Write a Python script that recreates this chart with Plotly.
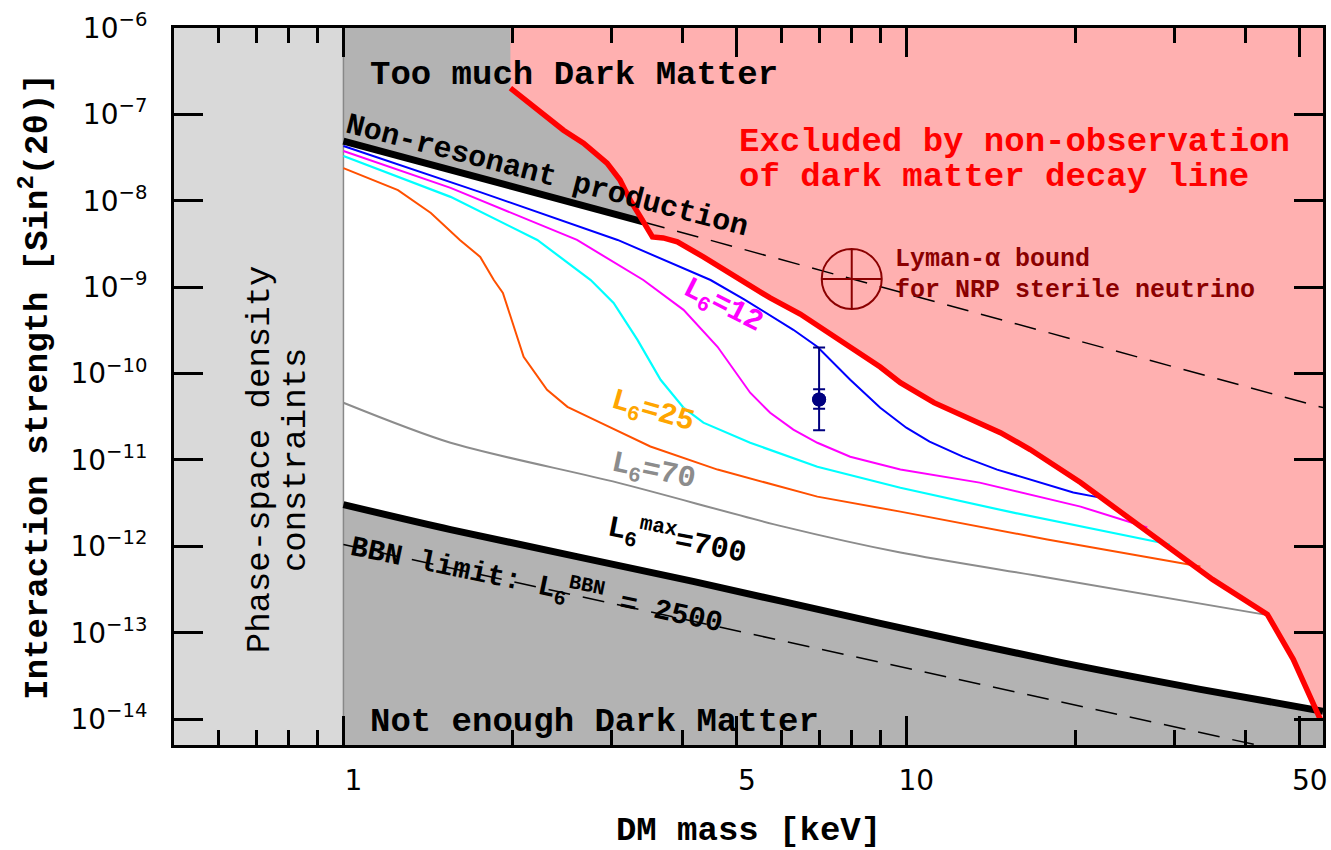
import numpy as np
import plotly.graph_objects as go

# ---------------- axis limits ----------------
M_MIN, M_MAX = 0.5, 55.0            # keV
LOG_S_MIN, LOG_S_MAX = -14.3, -6.0   # log10 sin^2(2 theta)
FILL_LO, FILL_HI = 1e-17, 1e-4       # fill polygons run past the frame and get clipped
M_FAR = 90.0
PHASE_SPACE_LIMIT = 1.0              # keV

# ---------------- data ----------------
# Non-resonant production (solid up to the X-ray bound, dashed beyond)
nrp_mass = [1.0, 3.41, 55.0]
nrp_sin = [4.91e-8, 5.69e-9, 4.03e-11]

# Upper bound from non-observation of the decay line
red_mass = [1.98, 2.21, 2.46, 2.67, 2.94, 3.10, 3.23, 3.37, 3.54, 3.70, 3.92, 4.36,
            4.87, 5.73, 6.48, 7.95, 8.99, 9.76, 11.2, 14.7, 16.6, 20.4, 23.3, 29.1,
            35.0, 43.8, 48.7, 54.4]
red_sin = [2.01e-7, 1.12e-7, 6.56e-8, 4.65e-8, 2.73e-8, 1.74e-8, 1.02e-8, 6.50e-9,
           3.81e-9, 3.71e-9, 3.34e-9, 2.24e-9, 1.46e-9, 7.5e-10, 4.89e-10, 1.99e-10,
           1.19e-10, 7.84e-11, 4.6e-11, 2.07e-11, 1.32e-11, 5.47e-12, 2.89e-12,
           9.96e-13, 4.14e-13, 1.63e-13, 4.92e-14, 9.95e-15]

# Maximal lepton asymmetry L6^max = 700
lmax_mass = [1.0, 1.55, 4.18, 8.99, 18.8, 33.3, 55.0]
lmax_sin = [3.04e-12, 1.56e-12, 3.92e-13, 1.28e-13, 4.53e-14, 2.21e-14, 1.23e-14]

# BBN limit L6^BBN = 2500
bbn_mass = [1.0, 50.0]
bbn_sin = [1.05e-12, 3.9e-15]

# Resonant production curves for fixed L6
blue_mass = [1.0, 1.75, 3.07, 4.49, 5.16, 6.30, 6.95, 7.95, 8.99, 10.0, 11.0, 12.6,
             14.5, 17.3, 19.8, 22.1]
blue_sin = [4.31e-8, 1.26e-8, 3.52e-9, 1.21e-9, 7.18e-10, 3.21e-10, 2.04e-10,
            8.47e-11, 4.02e-11, 2.36e-11, 1.63e-11, 1.09e-11, 7.73e-12, 5.46e-12,
            4.19e-12, 3.66e-12]

l12_mass = [1.0, 1.55, 2.60, 3.41, 4.02, 4.62, 5.28, 5.73, 6.30, 6.95, 7.95, 9.76,
            13.5, 20.4, 26.8]
l12_sin = [3.77e-8, 1.41e-8, 3.52e-9, 1.21e-9, 5.46e-10, 2.04e-10, 6.0e-11, 3.52e-11,
           2.24e-11, 1.58e-11, 1.09e-11, 7.73e-12, 5.46e-12, 2.88e-12, 1.65e-12]

cyan_mass = [1.0, 1.55, 2.21, 2.75, 3.02, 3.33, 3.66, 4.02, 4.36, 5.28, 6.95, 9.76,
             15.5, 29.4]
cyan_sin = [3.30e-8, 1.11e-8, 3.52e-9, 1.21e-9, 6.58e-10, 2.45e-10, 8.47e-11,
            4.02e-11, 2.70e-11, 1.58e-11, 8.34e-12, 4.77e-12, 2.45e-12, 1.05e-12]

l25_mass = [1.0, 1.25, 1.43, 1.61, 1.75, 1.85, 1.92, 2.09, 2.30, 2.50, 2.86, 3.51,
            4.62, 6.95, 9.76, 17.8, 33.3]
l25_sin = [2.39e-8, 1.33e-8, 7.23e-9, 3.52e-9, 2.24e-9, 1.21e-9, 8.59e-10, 1.56e-10,
           6.49e-11, 4.12e-11, 2.70e-11, 1.43e-11, 7.73e-12, 3.76e-12, 2.52e-12,
           1.20e-12, 5.83e-13]

l70_mass = [1.0, 1.55, 3.07, 6.05, 9.76, 17.8, 43.1]
l70_sin = [4.59e-11, 1.58e-11, 5.46e-12, 1.69e-12, 8.47e-13, 4.36e-13, 1.63e-13]

# 3.5 keV line signal
line_mass = [7.0]
line_sin = [5.0e-11]
line_inner = [3.9e-11, 6.6e-11]
line_outer = [2.2e-11, 2.0e-10]

# Lyman-alpha bound for NRP sterile neutrino
lyman_mass = [8.0]
lyman_sin = [1.24e-9]

# ---------------- ticks ----------------
x_major = [1, 5, 10, 50]
x_minor = [0.6, 0.7, 0.8, 0.9, 2, 3, 4, 6, 7, 8, 9, 20, 30, 40]
y_exps = list(range(-14, -5))
y_tickvals = [10.0 ** e for e in y_exps]
y_ticktext = ["10<sup>\u2212%d</sup>" % (-e) for e in y_exps]

# ---------------- colours ----------------
C_PHASE = "#d9d9d9"
C_GRAY = "#b3b3b3"
C_PINK = "#ffb0b0"
C_RED = "#ff0000"
C_DARKRED = "#8b0000"

MONO = "Liberation Mono"
fig = go.Figure()


def fill(xs, ys, color):
    fig.add_trace(go.Scatter(x=xs, y=ys, mode="lines", fill="toself", fillcolor=color,
                             line=dict(width=0, color=color), hoverinfo="skip",
                             showlegend=False))


def curve(xs, ys, color, width, dash="solid", shape="linear"):
    fig.add_trace(go.Scatter(x=xs, y=ys, mode="lines",
                             line=dict(color=color, width=width, dash=dash,
                                       shape=shape, smoothing=0.8),
                             showlegend=False))


# shaded regions
fill([M_MIN / 2, PHASE_SPACE_LIMIT, PHASE_SPACE_LIMIT, M_MIN / 2],
     [FILL_LO, FILL_LO, FILL_HI, FILL_HI], C_PHASE)
fill([nrp_mass[0], nrp_mass[0], nrp_mass[1], nrp_mass[1]],
     [FILL_HI, nrp_sin[0], nrp_sin[1], FILL_HI], C_GRAY)
fill(lmax_mass + [M_FAR, lmax_mass[0]], lmax_sin + [FILL_LO, FILL_LO], C_GRAY)
fill(red_mass + [M_FAR, M_FAR, red_mass[0]],
     red_sin + [red_sin[-1], FILL_HI, FILL_HI], C_PINK)

# phase-space boundary
curve([PHASE_SPACE_LIMIT, PHASE_SPACE_LIMIT], [FILL_LO, FILL_HI], "#888888", 1.5)

# production curves
curve(nrp_mass[:2], nrp_sin[:2], "black", 7)
curve(nrp_mass[1:], nrp_sin[1:], "black", 1.5, dash="22px,13px")
curve(bbn_mass, bbn_sin, "black", 1.5, dash="22px,13px")
curve(lmax_mass, lmax_sin, "black", 7, shape="spline")
curve(l70_mass, l70_sin, "#8c8c8c", 2, shape="spline")
curve(l25_mass, l25_sin, "#ff5000", 2)
curve(cyan_mass, cyan_sin, "#00ffff", 2.2)
curve(l12_mass, l12_sin, "#ff00ff", 2)
curve(blue_mass, blue_sin, "#0000ff", 2)
curve(red_mass, red_sin, C_RED, 5.5)

# 3.5 keV line: outer (systematic) and inner error bars
for lo, hi in (line_outer, line_inner):
    fig.add_trace(go.Scatter(
        x=line_mass, y=line_sin, mode="markers",
        marker=dict(size=14, color="#000080"),
        error_y=dict(type="data", symmetric=False,
                     array=[hi - v for v in line_sin],
                     arrayminus=[v - lo for v in line_sin],
                     color="#000080", thickness=2, width=6),
        showlegend=False))

# Lyman-alpha marker
fig.add_trace(go.Scatter(
    x=lyman_mass, y=lyman_sin, mode="markers",
    marker=dict(symbol="circle-cross-open", size=60, color=C_DARKRED,
                line=dict(width=2, color=C_DARKRED)),
    showlegend=False))


# ---------------- labels ----------------
def label(text, lx, ly, size=34, color="black", angle=0, xanchor="center",
          weight="bold"):
    fig.add_annotation(x=lx, y=ly, xref="x", yref="y", text=text, showarrow=False,
                       textangle=angle, xanchor=xanchor, yanchor="middle",
                       font=dict(family=MONO, size=size, color=color, weight=weight))


label("Too much Dark Matter", 0.410, -6.546)
label("Not enough Dark Matter", 0.446, -14.03)
label("Non-resonant production", 0.361, -7.713, size=30, angle=14.5)
label("Excluded by non-observation", 0.700, -7.320, color=C_RED, xanchor="left")
label("of dark matter decay line", 0.700, -7.725, color=C_RED, xanchor="left")
label("Lyman-\u03b1 bound", 0.977, -8.684, size=25, color=C_DARKRED, xanchor="left")
label("for NRP sterile neutrino", 0.977, -9.043, size=25, color=C_DARKRED,
      xanchor="left")
label("L<sub>6</sub>=12", 0.673, -9.229, size=30, color="#ff00ff", angle=27)
label("L<sub>6</sub>=25", 0.549, -10.454, size=30, color="#ffa500", angle=16)
label("L<sub>6</sub>=70", 0.551, -11.148, size=30, color="#8c8c8c", angle=12)
label("L<sub>6</sub><sup>max</sup>=700", 0.593, -11.923, size=30, angle=11)
label("BBN limit: L<sub>6</sub><sup>BBN</sup> = 2500", 0.343, -12.44, size=29,
      angle=11.7)
label("Phase-space density", -0.149, -10.997, size=34, angle=-90, weight="normal")
label("constraints", -0.0853, -10.997, size=34, angle=-90, weight="normal")

# ---------------- axes ----------------
axis_common = dict(
    type="log", ticks="inside", ticklen=29, tickwidth=3, tickcolor="black",
    showline=True, linewidth=3, linecolor="black", mirror="ticks",
    showgrid=False, zeroline=False,
    tickfont=dict(family="DejaVu Sans", size=28, color="black"),
)

fig.update_xaxes(
    **axis_common,
    range=[np.log10(M_MIN), np.log10(M_MAX)],
    tickmode="array", tickvals=x_major, ticktext=[str(v) for v in x_major],
    minor=dict(tickmode="array", tickvals=x_minor, ticks="inside", ticklen=15,
               tickwidth=3, tickcolor="black", showgrid=False),
    ticklabelshift=10, ticklabelstandoff=8,
    title=dict(text="DM mass [keV]", standoff=34,
               font=dict(family=MONO, size=34, color="black", weight="bold")),
)
fig.update_yaxes(
    **axis_common,
    range=[LOG_S_MIN, LOG_S_MAX],
    tickmode="array", tickvals=y_tickvals, ticktext=y_ticktext,
    ticklabelstandoff=18,
    title=dict(text="Interaction strength [Sin<sup>2</sup>(2\u03b8)]", standoff=13,
               font=dict(family=MONO, size=34, color="black", weight="bold")),
)

fig.update_layout(
    width=1331, height=850,
    margin=dict(l=174, r=8, t=28, b=105, autoexpand=False),
    plot_bgcolor="white", paper_bgcolor="white",
    showlegend=False,
)

fig.write_html("out.html")
